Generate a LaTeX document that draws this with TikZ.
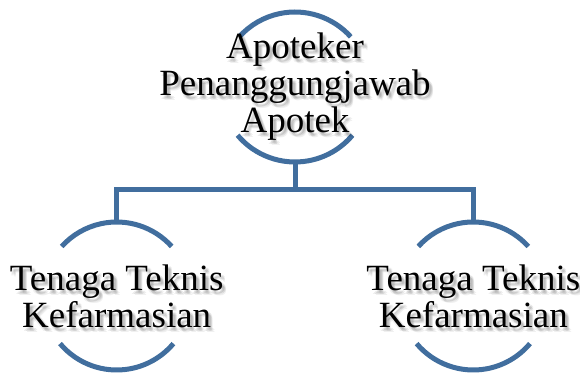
\documentclass[tikz,border=0pt]{standalone}
\usepackage{fontspec}
\newfontfamily\timesfont{Liberation Serif}
\definecolor{ringblue}{RGB}{65,110,158}
\tikzset{
  ring/.style={circle,minimum size=150pt,inner sep=0pt},
  arcline/.style={draw=ringblue,line width=5pt},
  boxtext/.style={align=center,font=\timesfont\fontsize{37}{37}\selectfont,inner sep=0pt},
  boxshade/.style={boxtext,text=black,opacity=0.06}
}
\begin{document}
\begin{tikzpicture}[x=1pt,y=1pt]
    \useasboundingbox (0,0) rectangle (580,372);

    \node[ring] (apa) at (295,285) {};
    \node[ring] (ttkA) at (116.7,76) {};
    \node[ring] (ttkB) at (473.3,76) {};
    \coordinate (bus) at (295,182);

    % ring arcs
    \foreach \n/\r in {apa/75,ttkA/74,ttkB/74} {
        \draw[arcline] ([shift={(42:\r)}]\n.center) arc (42:138:\r);
        \draw[arcline] ([shift={(220:\r)}]\n.center) arc (220:320:\r);
    }

    % lines
    \draw[arcline] (apa.south) -- (bus);
    \draw[arcline] (bus) -| (ttkA.north);
    \draw[arcline] (bus) -| (ttkB.north);

    % soft shadow under the text
    \foreach \dx/\dy in {2/-3,3/-4,4/-5,3/-2,1/-4,4/-3} {
        \node[boxshade] (apaS) at ([shift={(\dx,\dy)}]apa) {Apoteker\\Penanggungjawab\\Apotek};
        \node[boxshade] (ttkAS) at ([shift={(\dx,\dy)}]ttkA) {Tenaga Teknis\\Kefarmasian};
        \node[boxshade] (ttkBS) at ([shift={(\dx,\dy)}]ttkB) {Tenaga Teknis\\Kefarmasian};
    }

    \node[boxtext] (apaT) at (apa) {Apoteker\\Penanggungjawab\\Apotek};
    \node[boxtext] (ttkAT) at (ttkA) {Tenaga Teknis\\Kefarmasian};
    \node[boxtext] (ttkBT) at (ttkB) {Tenaga Teknis\\Kefarmasian};
\end{tikzpicture}
\end{document}
